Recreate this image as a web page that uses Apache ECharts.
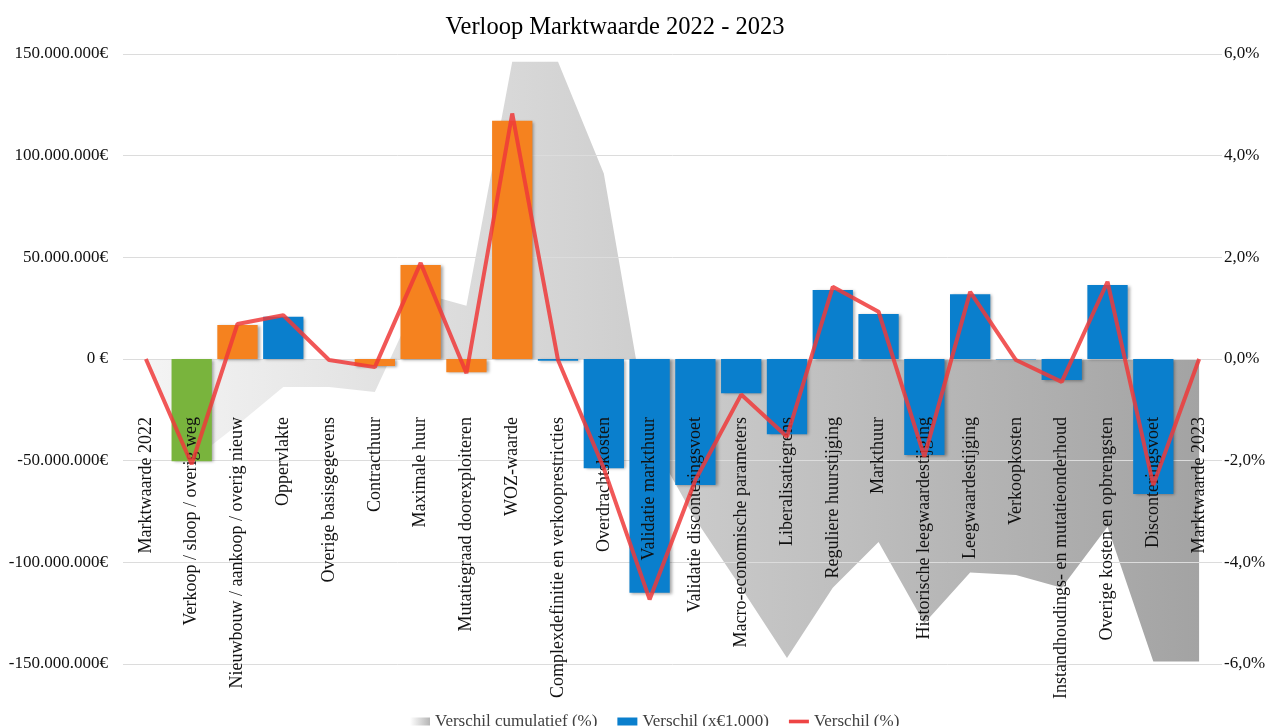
<!DOCTYPE html>
<html>
<head>
<meta charset="utf-8">
<script src="https://cdn.jsdelivr.net/npm/echarts@6/dist/echarts.min.js"></script>
<style>html,body{margin:0;padding:0;background:#fff}#c{width:1277px;height:726px}</style>
</head>
<body>
<div id="c"></div>
<script>
const titleText = 'Verloop Marktwaarde 2022 - 2023';
const categories = ['Marktwaarde 2022','Verkoop / sloop / overig weg','Nieuwbouw / aankoop / overig nieuw','Oppervlakte','Overige basisgegevens','Contracthuur','Maximale huur','Mutatiegraad doorexploiteren','WOZ-waarde','Complexdefinitie en verkooprestricties','Overdrachtskosten','Validatie markthuur','Validatie disconteringsvoet','Macro-economische parameters','Liberalisatiegrens','Reguliere huurstijging','Markthuur','Historische leegwaardestijging','Leegwaardestijging','Verkoopkosten','Instandhoudings- en mutatieonderhoud','Overige kosten en opbrengsten','Disconteringsvoet','Marktwaarde 2023'];
// Verschil in euro (left axis)
const verschilEuro = [null,-50300000,16700000,20800000,0,-3500000,46200000,-6500000,117200000,-800000,-53700000,-115000000,-62000000,-16900000,-37000000,33900000,22100000,-47200000,31900000,-300000,-10300000,36400000,-66400000,null];
// group of each step (used to pick the bar colour)
const barGroup = ['','portefeuille','beleid','overig','overig','beleid','beleid','beleid','beleid','overig','overig','overig','overig','overig','overig','overig','overig','overig','overig','overig','overig','overig','overig',''];
// Verschil (%) (right axis)
const verschilPct = [0,-2.07,0.69,0.86,-0.02,-0.16,1.89,-0.28,4.83,-0.02,-2.15,-4.73,-2.38,-0.70,-1.53,1.42,0.93,-1.92,1.32,-0.02,-0.45,1.52,-2.48,0];
// Verschil cumulatief (%) (right axis)
const cumulatiefPct = [0,-2.0,-1.3,-0.55,-0.55,-0.65,1.3,1.05,5.85,5.85,3.65,-1.55,-3.15,-4.5,-5.88,-4.5,-3.6,-5.2,-4.2,-4.25,-4.5,-3.3,-5.95,-5.95];
const leftTicks = {min:-150000000, max:150000000, interval:50000000};
const rightTicks = {min:-6, max:6, interval:2};
const seriesNames = ['Verschil cumulatief (%)','Verschil (x€1.000)','Verschil (%)'];

const groupColor = {portefeuille:'#79b43d', beleid:'#f5821f', overig:'#0a7fcd'};
const serif = 'Liberation Serif';

function euro(v){
  if (v === 0) return '0 €';
  const s = Math.abs(v).toString().replace(/\B(?=(\d{3})+(?!\d))/g,'.');
  return (v < 0 ? '-' : '') + s + '€';
}
function pct(v){ return v.toFixed(1).replace('.', ',') + '%'; }

const chart = echarts.init(document.getElementById('c'), null, {renderer:'canvas'});
const areaGrad = new echarts.graphic.LinearGradient(0,0,1,0,[{offset:0,color:'#f4f4f4'},{offset:1,color:'#a3a3a3'}]);
const legendGrad = new echarts.graphic.LinearGradient(0,0,1,0,[{offset:0,color:'#ffffff'},{offset:1,color:'#b5b5b5'}]);

chart.setOption({
  animation:false,
  backgroundColor:'#fff',
  title:{text:titleText, left:610, top:10, textAlign:'center',
    textStyle:{fontFamily:serif, fontSize:24.5, fontWeight:'normal', color:'#000'}},
  legend:{left:405, top:708, itemWidth:20, itemHeight:8, itemGap:20, z:6,
    textStyle:{fontFamily:serif, fontSize:17, color:'#404040'},
    data:[{name:seriesNames[0], icon:'rect', itemStyle:{color:legendGrad}},
          {name:seriesNames[1], icon:'rect'},
          {name:seriesNames[2], icon:'path://M0,0 L22,0 L22,4 L0,4 Z', itemStyle:{color:'#ee4444'}}]},
  grid:{left:123, right:55, top:54, bottom:62, containLabel:false, outerBoundsMode:'none'},
  xAxis:{type:'category', data:categories, boundaryGap:true, z:3, position:'bottom',
    axisTick:{show:false},
    axisLine:{show:false, onZero:false},
    axisLabel:{interval:0, rotate:90, margin:-247, hideOverlap:false, fontFamily:serif, fontSize:18, color:'#111'}},
  yAxis:[
    {type:'value', min:leftTicks.min, max:leftTicks.max, interval:leftTicks.interval, z:1,
      axisLine:{show:false}, axisTick:{show:false},
      splitLine:{lineStyle:{color:'#dcdcdc', width:1}},
      axisLabel:{formatter:euro, margin:15, fontFamily:serif, fontSize:17, color:'#111'}},
    {type:'value', min:rightTicks.min, max:rightTicks.max, interval:rightTicks.interval, position:'right',
      axisLine:{show:false}, axisTick:{show:false}, splitLine:{show:false},
      axisLabel:{formatter:pct, margin:2, fontFamily:serif, fontSize:17, color:'#111'}}
  ],
  series:[
    {name:seriesNames[0], type:'line', yAxisIndex:1, z:0, data:cumulatiefPct,
      symbol:'none', lineStyle:{width:0, opacity:0}, itemStyle:{color:'#bdbdbd'},
      areaStyle:{color:areaGrad, opacity:1}},
    {name:seriesNames[1], type:'bar', yAxisIndex:0, z:2, barCategoryGap:'12%',
      itemStyle:{color:groupColor.overig, shadowColor:'rgba(0,0,0,0.35)', shadowBlur:3, shadowOffsetX:2, shadowOffsetY:1},
      data:verschilEuro.map((v,i)=>({value:v===null?'-':v,
        itemStyle:{color:groupColor[barGroup[i]] || groupColor.overig}}))},
    {name:seriesNames[2], type:'line', yAxisIndex:1, z:4, data:verschilPct,
      symbol:'none', lineStyle:{width:4, color:'#ee3a3a', opacity:0.85}, itemStyle:{color:'#ee3a3a'}}
  ]
});
</script>
</body>
</html>
